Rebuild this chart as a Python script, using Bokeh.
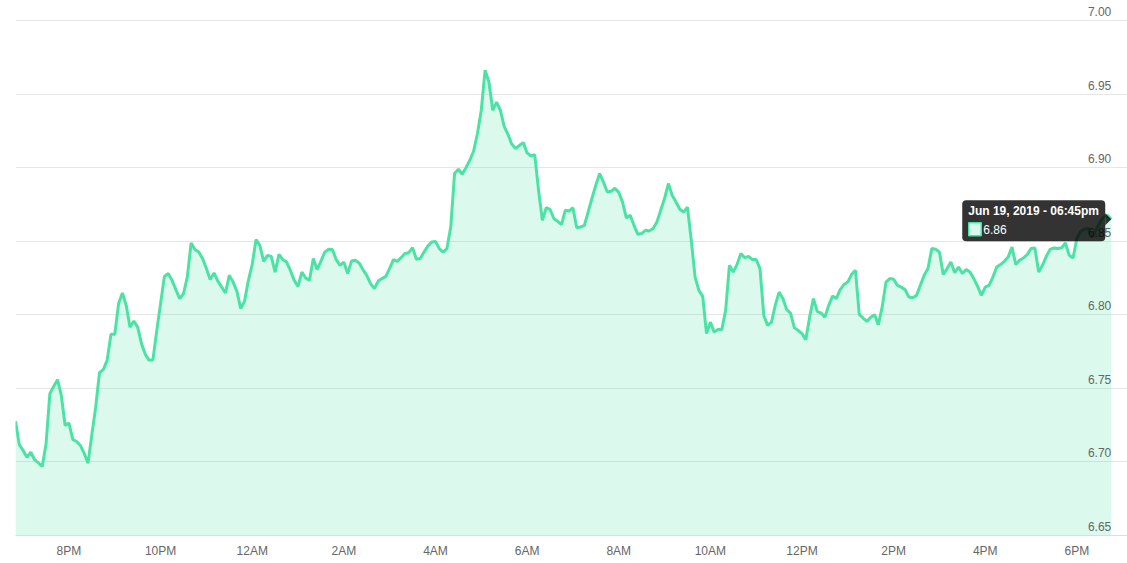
import pandas as pd
from bokeh.plotting import figure
from bokeh.models import (ColumnDataSource, Range1d, FixedTicker, BoxAnnotation,
                          Label, PolyAnnotation, DatetimeTickFormatter)
from bokeh.core.properties import value
from bokeh.embed import file_html
from bokeh.resources import INLINE

# ---------------- data ----------------
start_time = "2019-06-18 18:50"
step = "5min"
rate = [
    6.7277, 6.7117, 6.7078, 6.7032, 6.7066, 6.7015, 6.6993, 6.6969, 6.7124, 6.7464,
    6.7513, 6.7559, 6.7452, 6.7248, 6.7264, 6.7153, 6.7139, 6.7112, 6.7058, 6.6992,
    6.7187, 6.7372, 6.7606, 6.7627, 6.7690, 6.7867, 6.7867, 6.8076, 6.8148, 6.8064,
    6.7916, 6.7957, 6.7916, 6.7804, 6.7731, 6.7690, 6.7695, 6.7894, 6.8076, 6.8261,
    6.8280, 6.8234, 6.8171, 6.8110, 6.8144, 6.8256, 6.8488, 6.8443, 6.8426, 6.8382,
    6.8314, 6.8239, 6.8284, 6.8229, 6.8188, 6.8148, 6.8268, 6.8222, 6.8159, 6.8042,
    6.8093, 6.8234, 6.8341, 6.8511, 6.8472, 6.8363, 6.8404, 6.8397, 6.8290, 6.8411,
    6.8375, 6.8358, 6.8302, 6.8234, 6.8193, 6.8290, 6.8250, 6.8234, 6.8382, 6.8307,
    6.8365, 6.8426, 6.8445, 6.8443, 6.8375, 6.8336, 6.8358, 6.8280, 6.8365, 6.8370,
    6.8352, 6.8307, 6.8268, 6.8212, 6.8178, 6.8229, 6.8246, 6.8261, 6.8316, 6.8375,
    6.8363, 6.8388, 6.8416, 6.8422, 6.8456, 6.8377, 6.8382, 6.8426, 6.8467, 6.8494,
    6.8499, 6.8450, 6.8426, 6.8450, 6.8596, 6.8960, 6.8989, 6.8955, 6.9000, 6.9050,
    6.9113, 6.9232, 6.9390, 6.9662, 6.9582, 6.9390, 6.9446, 6.9390, 6.9281, 6.9225,
    6.9159, 6.9130, 6.9152, 6.9170, 6.9100, 6.9079, 6.9089, 6.8846, 6.8642, 6.8728,
    6.8717, 6.8654, 6.8635, 6.8613, 6.8710, 6.8705, 6.8728, 6.8592, 6.8596, 6.8608,
    6.8700, 6.8792, 6.8880, 6.8960, 6.8902, 6.8834, 6.8839, 6.8860, 6.8832, 6.8766,
    6.8658, 6.8676, 6.8608, 6.8547, 6.8552, 6.8574, 6.8569, 6.8586, 6.8630, 6.8710,
    6.8790, 6.8892, 6.8812, 6.8766, 6.8717, 6.8698, 6.8732, 6.8506, 6.8256, 6.8166,
    6.8125, 6.7872, 6.7950, 6.7882, 6.7901, 6.7899, 6.8030, 6.8336, 6.8290, 6.8343,
    6.8416, 6.8388, 6.8397, 6.8375, 6.8375, 6.8314, 6.7996, 6.7928, 6.7950, 6.8064,
    6.8154, 6.8110, 6.8035, 6.8012, 6.7912, 6.7894, 6.7872, 6.7831, 6.7984, 6.8110,
    6.8023, 6.8012, 6.7984, 6.8064, 6.8127, 6.8110, 6.8171, 6.8205, 6.8222, 6.8275,
    6.8302, 6.8003, 6.7978, 6.7955, 6.7984, 6.8001, 6.7933, 6.8052, 6.8222, 6.8246,
    6.8241, 6.8200, 6.8188, 6.8171, 6.8120, 6.8116, 6.8132, 6.8200, 6.8268, 6.8314,
    6.8450, 6.8445, 6.8426, 6.8273, 6.8314, 6.8358, 6.8286, 6.8324, 6.8280, 6.8307,
    6.8290, 6.8246, 6.8193, 6.8132, 6.8188, 6.8200, 6.8256, 6.8324, 6.8341, 6.8363,
    6.8392, 6.8460, 6.8341, 6.8370, 6.8386, 6.8409, 6.8450, 6.8454, 6.8290, 6.8336,
    6.8397, 6.8445, 6.8454, 6.8450, 6.8455, 6.8488, 6.8404, 6.8386, 6.8518, 6.8567,
    6.8581, 6.8588, 6.8526, 6.8574, 6.8628, 6.8664, 6.8676, 6.8649,
]
x_tick_start = "2019-06-18 20:00"
x_tick_labels = ["8PM", "10PM", "12AM", "2AM", "4AM", "6AM",
                 "8AM", "10AM", "12PM", "2PM", "4PM", "6PM"]
y_ticks = [6.65, 6.70, 6.75, 6.80, 6.85, 6.90, 6.95, 7.00]
y_tick_labels = ["6.65", "6.70", "6.75", "6.80", "6.85", "6.90", "6.95", "7.00"]
tooltip_title = "Jun 19, 2019 - 06:45pm"
tooltip_value = "6.86"

# ---------------- styling ----------------
LINE_COLOR = "#4be3a5"
FONT = "Liberation Sans"
FRAME_W, FRAME_H = 1112, 535
x_pad_minutes = 21.3
y_top_pad = 0.01359

times = pd.date_range(start_time, periods=len(rate), freq=step)
ms = [int(t.value // 10**6) for t in times]
tick_times = pd.date_range(x_tick_start, periods=len(x_tick_labels), freq="2h")
tick_ms = [int(t.value // 10**6) for t in tick_times]

src = ColumnDataSource(dict(t=ms, rate=rate, base=[y_ticks[0]] * len(rate)))

x_start, x_end = ms[0], ms[-1] + x_pad_minutes * 60000
y_start, y_end = y_ticks[0], y_ticks[-1] + y_top_pad
ms_per_px = (x_end - x_start) / FRAME_W
val_per_px = (y_end - y_start) / FRAME_H

p = figure(frame_width=FRAME_W, frame_height=FRAME_H,
           x_axis_type="datetime", y_axis_location=None,
           x_range=Range1d(x_start, x_end), y_range=Range1d(y_start, y_end),
           output_backend="svg", toolbar_location=None,
           min_border_left=15, min_border_right=0, min_border_top=0,
           min_border_bottom=20, outline_line_color=None,
           background_fill_color="white", border_fill_color="white")

p.xgrid.visible = False
p.ygrid.ticker = FixedTicker(ticks=y_ticks)
p.ygrid.grid_line_color = "#e6e6e6"
p.ygrid.grid_line_width = 1

ax = p.xaxis[0]
ax.ticker = FixedTicker(ticks=tick_ms)
ax.formatter = DatetimeTickFormatter(hours="%I%p")
ax.major_label_overrides = {m: lab for m, lab in zip(tick_ms, x_tick_labels)}
ax.axis_line_color = "#dddddd"
ax.major_tick_line_color = None
ax.minor_tick_line_color = None
ax.major_label_text_color = "#666666"
ax.major_label_text_font = FONT
ax.major_label_text_font_size = "12px"
ax.major_label_standoff = 2

p.varea(x="t", y1="base", y2="rate", source=src,
        fill_color=LINE_COLOR, fill_alpha=0.2)
p.line(x="t", y="rate", source=src, line_color=LINE_COLOR, line_width=3)

# y tick labels drawn inside the plot, just above each grid line,
# right aligned at the last point
label_lift = 9 * val_per_px
ysrc = ColumnDataSource(dict(x=[ms[-1]] * len(y_ticks),
                             y=[t + label_lift for t in y_ticks],
                             text=y_tick_labels))
p.text(x="x", y="y", text="text", source=ysrc, text_align="right",
       text_baseline="middle", text_color="#666666",
       text_font=value(FONT), text_font_size="12px")

# ---------------- static tooltip at the last point ----------------
def ox(px):
    return ms[-1] + px * ms_per_px

def oy(px):
    return rate[-1] + px * val_per_px

p.add_layout(BoxAnnotation(left=ox(-149), right=ox(-6), top=oy(19), bottom=oy(-22),
                           fill_color="black", fill_alpha=0.8, line_color=None,
                           border_radius=4))
p.add_layout(PolyAnnotation(xs=[ox(-6), ox(-6), ox(0)], ys=[oy(6), oy(-6), oy(0)],
                            fill_color="black", fill_alpha=0.8, line_color=None))
p.add_layout(BoxAnnotation(left=ox(-142.5), right=ox(-130), top=oy(-3.5), bottom=oy(-16.5),
                           fill_color="#d9f9ec", fill_alpha=1, line_color=LINE_COLOR,
                           line_width=1.5, line_alpha=1))
p.add_layout(Label(x=ox(-143), y=oy(8), text=tooltip_title, text_color="white",
                   text_font=FONT, text_font_size="12px", text_font_style="bold",
                   text_baseline="middle", text_align="left"))
p.add_layout(Label(x=ox(-128), y=oy(-10), text=tooltip_value, text_color="white",
                   text_font=FONT, text_font_size="12px",
                   text_baseline="middle", text_align="left"))

open("out.html", "w").write(file_html(p, INLINE))
